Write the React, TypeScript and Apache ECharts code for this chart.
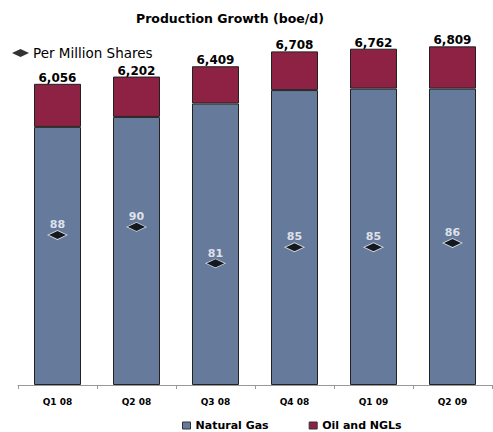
import React, { useEffect, useRef } from "react";
import * as echarts from "echarts";

const categories = ["Q1 08", "Q2 08", "Q3 08", "Q4 08", "Q1 09", "Q2 09"];
const naturalGas = [5190, 5390, 5660, 5930, 5960, 5960];
const oilAndNGLs = [866, 812, 749, 778, 802, 849];
const totals = [6056, 6202, 6409, 6708, 6762, 6809];
const perMillionShares = [88, 90, 81, 85, 85, 86];

const FONT = "'DejaVu Sans', Verdana, sans-serif";

export default function App() {
  const ref = useRef<HTMLDivElement>(null);
  useEffect(() => {
    document.body.style.margin = "0";
    const chart = echarts.init(ref.current!, null, { renderer: "svg" });
    chart.setOption({
      animation: false,
      backgroundColor: "#ffffff",
      textStyle: { fontFamily: FONT },
      title: {
        text: "Production Growth (boe/d)",
        left: 136,
        top: 12,
        padding: 0,
        textStyle: { fontSize: 12.5, fontWeight: "bold", color: "#000", fontFamily: FONT },
      },
      legend: [
        {
          data: ["Per Million Shares"],
          left: 12,
          top: 46,
          padding: 0,
          icon: "diamond",
          itemWidth: 17,
          itemHeight: 8,
          itemGap: 4,
          itemStyle: { borderWidth: 0, color: "#000" },
          textStyle: { fontSize: 13.5, color: "#000", fontFamily: FONT, padding: [0, 0, 0, -1] },
        },
        {
          data: ["Natural Gas", "Oil and NGLs"],
          left: 182,
          top: 420,
          padding: 0,
          icon: "rect",
          itemWidth: 8,
          itemHeight: 7,
          itemGap: 40,
          itemStyle: { borderColor: "#333", borderWidth: 1 },
          textStyle: { fontSize: 11, fontWeight: "bold", color: "#000", fontFamily: FONT },
        },
      ],
      grid: { left: 18, right: 1, top: 12, bottom: 47 },
      xAxis: {
        type: "category",
        data: categories,
        axisLine: { lineStyle: { color: "#999", width: 1 } },
        axisTick: { show: true, length: 4, lineStyle: { color: "#999" } },
        axisLabel: { fontSize: 9, fontWeight: "bold", color: "#000", margin: 12, fontFamily: FONT },
      },
      yAxis: [
        { type: "value", min: 0, max: 7500, show: false, splitLine: { show: false } },
        { type: "value", min: 51, max: 143, show: false, splitLine: { show: false } },
      ],
      series: [
        {
          name: "Natural Gas",
          type: "bar",
          stack: "prod",
          barWidth: 47,
          data: naturalGas,
          itemStyle: { color: "#667a9b", borderColor: "#222", borderWidth: 1 },
        },
        {
          name: "Oil and NGLs",
          type: "bar",
          stack: "prod",
          barWidth: 47,
          data: oilAndNGLs,
          itemStyle: { color: "#8e2245", borderColor: "#222", borderWidth: 1 },
          label: {
            show: true,
            position: "top",
            distance: 0,
            formatter: (p: any) => totals[p.dataIndex].toLocaleString("en-US"),
            fontSize: 12,
            fontWeight: "bold",
            color: "#000",
            fontFamily: FONT,
          },
        },
        {
          name: "Per Million Shares",
          type: "scatter",
          yAxisIndex: 1,
          data: perMillionShares,
          symbol: "diamond",
          symbolSize: [19, 9],
          itemStyle: { color: "#000", borderColor: "#fff", borderWidth: 1 },
          label: {
            show: true,
            position: "top",
            distance: 0,
            fontSize: 11,
            fontWeight: "bold",
            color: "#fff",
            fontFamily: FONT,
          },
          z: 5,
        },
      ],
    });
    return () => chart.dispose();
  }, []);
  return <div ref={ref} style={{ width: 493, height: 432 }} />;
}
